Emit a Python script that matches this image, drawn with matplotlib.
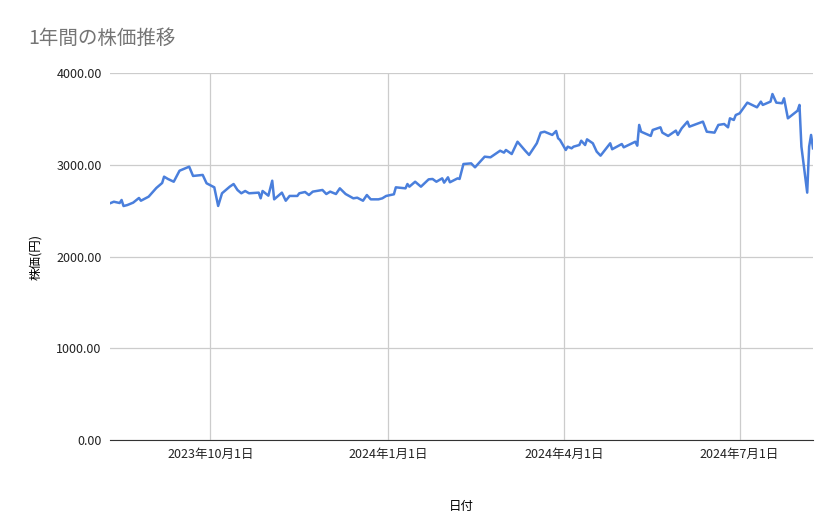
import matplotlib

matplotlib.use("Agg")
import matplotlib.dates as mdates
import matplotlib.pyplot as plt
import numpy as np
import pandas as pd
from matplotlib.ticker import FormatStrFormatter

plt.rcParams["font.family"] = ["Noto Sans CJK JP", "DejaVu Sans"]

# Values (approximate)
dates = [
    "2023-08-10", "2023-08-12", "2023-08-15", "2023-08-16", "2023-08-17", "2023-08-19",
    "2023-08-22", "2023-08-25", "2023-08-26", "2023-08-30", "2023-09-03", "2023-09-06",
    "2023-09-07", "2023-09-09", "2023-09-12", "2023-09-15", "2023-09-20", "2023-09-22",
    "2023-09-27", "2023-09-29", "2023-10-03", "2023-10-05", "2023-10-07", "2023-10-11",
    "2023-10-13", "2023-10-15", "2023-10-17", "2023-10-19", "2023-10-21", "2023-10-26",
    "2023-10-27", "2023-10-28", "2023-10-31", "2023-11-02", "2023-11-03", "2023-11-07",
    "2023-11-09", "2023-11-11", "2023-11-15", "2023-11-16", "2023-11-19", "2023-11-21",
    "2023-11-23", "2023-11-28", "2023-11-30", "2023-12-02", "2023-12-05", "2023-12-07",
    "2023-12-10", "2023-12-14", "2023-12-16", "2023-12-19", "2023-12-21", "2023-12-23",
    "2023-12-27", "2023-12-29", "2023-12-31", "2024-01-04", "2024-01-05", "2024-01-10",
    "2024-01-11", "2024-01-12", "2024-01-15", "2024-01-18", "2024-01-22", "2024-01-24",
    "2024-01-26", "2024-01-29", "2024-01-30", "2024-02-01", "2024-02-02", "2024-02-06",
    "2024-02-07", "2024-02-09", "2024-02-13", "2024-02-15", "2024-02-20", "2024-02-23",
    "2024-02-28", "2024-03-01", "2024-03-02", "2024-03-05", "2024-03-08", "2024-03-12",
    "2024-03-14", "2024-03-18", "2024-03-20", "2024-03-22", "2024-03-26", "2024-03-28",
    "2024-03-29", "2024-03-30", "2024-04-02", "2024-04-03", "2024-04-05", "2024-04-06",
    "2024-04-09", "2024-04-10", "2024-04-12", "2024-04-13", "2024-04-16", "2024-04-18",
    "2024-04-20", "2024-04-25", "2024-04-26", "2024-05-01", "2024-05-02", "2024-05-08",
    "2024-05-09", "2024-05-10", "2024-05-11", "2024-05-16", "2024-05-17", "2024-05-21",
    "2024-05-22", "2024-05-25", "2024-05-29", "2024-05-30", "2024-06-01", "2024-06-04",
    "2024-06-05", "2024-06-12", "2024-06-14", "2024-06-18", "2024-06-20", "2024-06-23",
    "2024-06-25", "2024-06-26", "2024-06-28", "2024-06-29", "2024-07-01", "2024-07-05",
    "2024-07-10", "2024-07-12", "2024-07-13", "2024-07-17", "2024-07-18", "2024-07-20",
    "2024-07-23", "2024-07-24", "2024-07-26", "2024-07-31", "2024-08-01", "2024-08-02",
    "2024-08-05", "2024-08-06", "2024-08-07", "2024-08-08",
]
prices = [
    2580, 2597, 2583, 2616, 2550, 2561,
    2587, 2638, 2608, 2652, 2747, 2801,
    2870, 2845, 2815, 2935, 2979, 2878,
    2889, 2798, 2754, 2551, 2689, 2761,
    2790, 2725, 2689, 2714, 2689, 2696,
    2634, 2714, 2663, 2826, 2623, 2696,
    2608, 2660, 2660, 2689, 2703, 2670,
    2707, 2725, 2681, 2707, 2681, 2743,
    2681, 2634, 2641, 2608, 2670, 2623,
    2623, 2634, 2660, 2678, 2754, 2743,
    2790, 2761, 2815, 2761, 2841, 2845,
    2815, 2852, 2805, 2863, 2809, 2852,
    2845, 3008, 3015, 2972, 3088, 3081,
    3153, 3132, 3161, 3117, 3251, 3153,
    3107, 3234, 3350, 3360, 3325, 3368,
    3289, 3270, 3161, 3197, 3179, 3197,
    3215, 3262, 3215, 3277, 3234, 3143,
    3099, 3234, 3169, 3226, 3190, 3251,
    3208, 3434, 3360, 3314, 3379, 3408,
    3350, 3314, 3372, 3325, 3397, 3470,
    3415, 3470, 3360, 3350, 3434, 3444,
    3408, 3506, 3488, 3542, 3560, 3677,
    3626, 3688, 3652, 3688, 3771, 3677,
    3670, 3724, 3506, 3589, 3652, 3197,
    2696, 3197, 3325, 3179,
]
xticks = ["2023-10-01", "2024-01-01", "2024-04-01", "2024-07-01"]
xtick_labels = ["2023年10月1日", "2024年1月1日", "2024年4月1日", "2024年7月1日"]

x = pd.to_datetime(dates)
y = np.array(prices, dtype=float)

fig = plt.figure(figsize=(8.39, 5.19), dpi=100)
ax = fig.add_axes([110 / 839, 1 - 440 / 519, 703 / 839, 367 / 519])
ax.plot(x, y, color="#4a7fdc", lw=1.8, solid_joinstyle="round")

ax.set_xlim(x[0], x[-1])
ax.set_ylim(0, 4000)
ax.set_yticks([0, 1000, 2000, 3000, 4000])
ax.yaxis.set_major_formatter(FormatStrFormatter("%.2f"))
ax.set_xticks(pd.to_datetime(xticks))
ax.set_xticklabels(xtick_labels)
ax.grid(True, color="#cccccc", lw=0.9)
ax.set_axisbelow(True)
for s in ["top", "right", "left"]:
    ax.spines[s].set_visible(False)
ax.spines["bottom"].set_color("#333333")
ax.tick_params(length=0, labelsize=9, colors="#222222", pad=6)
ax.set_xlabel("日付", fontsize=9, labelpad=28)
ax.set_ylabel("株価(円)", fontsize=9, labelpad=10)
fig.text(28 / 839, 1 - 38 / 519, "1年間の株価推移", fontsize=14, color="#757575",
         va="center", ha="left")

fig.savefig("out.png", dpi=100)
